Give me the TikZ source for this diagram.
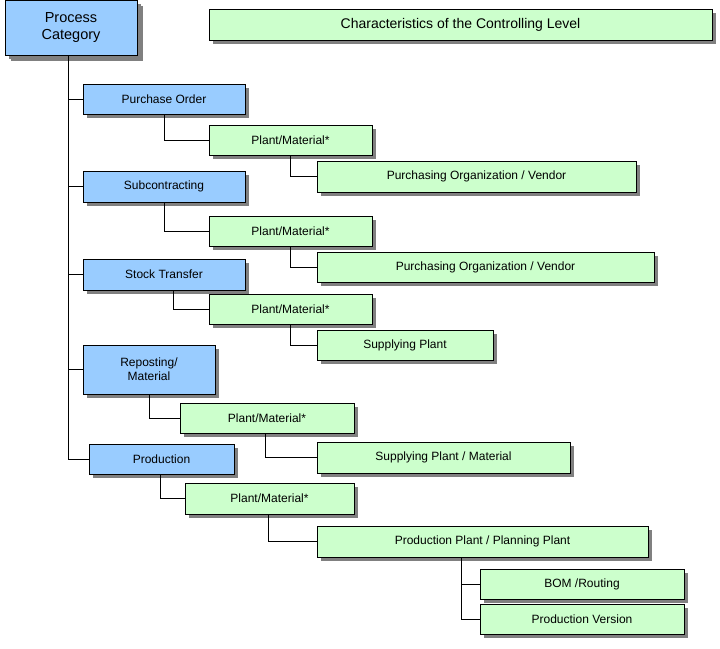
\documentclass[tikz,border=0pt]{standalone}
\usepackage{fontspec}
\setmainfont{Liberation Sans}
\usetikzlibrary{shadows}
\definecolor{bl}{HTML}{99CCFF}
\definecolor{gr}{HTML}{CCFFCC}
\definecolor{sh}{HTML}{808080}
\tikzset{
  box/.style={draw=black, line width=0.8pt, inner sep=0pt, align=center, font=\fontsize{12}{14}\selectfont,
    drop shadow={shadow xshift=4pt, shadow yshift=-4pt, fill=sh, opacity=1}},
  bb/.style={box, fill=bl}, gb/.style={box, fill=gr},
  ln/.style={line width=0.8pt}
}
\newcommand{\bx}[7]{\node[#6, minimum width={#4-#2}, minimum height={#5-#3}] (#1) at ({(#2+#4)/2},{(#3+#5)/2}) {#7};}
\begin{document}
\begin{tikzpicture}[x=1pt,y=-1pt]
\useasboundingbox (0,0) rectangle (720,648);
\bx{pc}{5}{0}{137}{55}{bb,font=\fontsize{14.5}{17.5}\selectfont,drop shadow={shadow xshift=6pt, shadow yshift=-6pt, fill=sh, opacity=1}}{Process\\Category}
\bx{t}{209}{9}{712}{40}{gb,font=\fontsize{14}{17}\selectfont}{Characteristics of the Controlling Level}
\bx{po}{83}{84}{245}{114}{bb}{Purchase Order}
\bx{pm1}{209}{125}{372}{155}{gb}{Plant/Material*}
\bx{v1}{317}{161}{636}{192}{gb}{Purchasing Organization / Vendor}
\bx{sc}{83}{171}{245}{202}{bb}{Subcontracting}
\bx{pm2}{209}{216}{372}{246}{gb}{Plant/Material*}
\bx{v2}{317}{252}{654}{282}{gb}{Purchasing Organization / Vendor}
\bx{st}{83}{259}{245}{290}{bb}{Stock Transfer}
\bx{pm3}{209}{294}{372}{324}{gb}{Plant/Material*}
\bx{sp}{317}{330}{493}{360}{gb}{Supplying Plant}
\bx{rp}{83}{345}{215}{394}{bb}{Reposting/\\Material}
\bx{pm4}{180}{403}{354}{433}{gb}{Plant/Material*}
\bx{spm}{317}{442}{570}{473}{gb}{Supplying Plant / Material}
\bx{pr}{89}{444}{234}{474}{bb}{Production}
\bx{pm5}{185}{483}{354}{514}{gb}{Plant/Material*}
\bx{pp}{317}{526}{648}{557}{gb}{Production Plant / Planning Plant}
\bx{bom}{480}{569}{684}{599}{gb}{BOM /Routing}
\bx{pv}{480}{604}{684}{634}{gb}{Production Version}
\coordinate (tr) at (68,55);
\foreach \n in {po,sc,st,rp,pr} \draw[ln] (tr) |- (\n.west);
\draw[ln] (po.south west) ++(82,0) |- (pm1.west);
\draw[ln] (pm1.south west) ++(82,0) |- (v1.west);
\draw[ln] (sc.south west) ++(82,0) |- (pm2.west);
\draw[ln] (pm2.south west) ++(82,0) |- (v2.west);
\draw[ln] (st.south west) ++(91,0) |- (pm3.west);
\draw[ln] (pm3.south west) ++(82,0) |- (sp.west);
\draw[ln] (rp.south west) ++(67,0) |- (pm4.west);
\draw[ln] (pm4.south west) ++(86,0) |- (spm.west);
\draw[ln] (pr.south west) ++(72,0) |- (pm5.west);
\draw[ln] (pm5.south west) ++(84,0) |- (pp.west);
\draw[ln] (pp.south west) ++(145,0) |- (bom.west);
\draw[ln] (pp.south west) ++(145,0) |- (pv.west);
\end{tikzpicture}
\end{document}
